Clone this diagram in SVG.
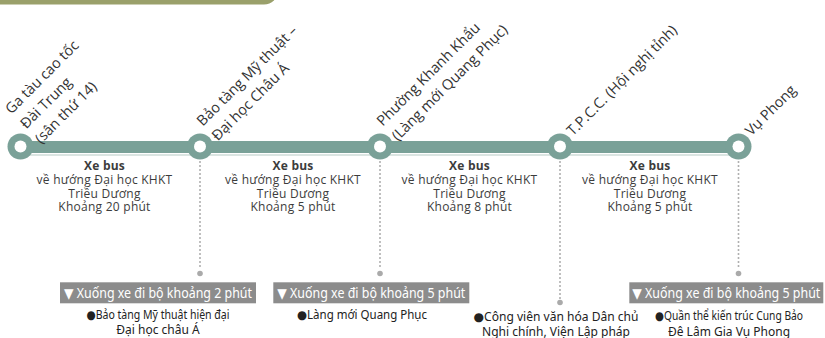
<svg xmlns="http://www.w3.org/2000/svg" width="825" height="338" viewBox="0 0 825 338">
<style>
.lbl{font-family:"Open Sans","Noto Sans",sans-serif;font-size:14.5px;fill:#333}
.bus{font-family:"Open Sans","Noto Sans",sans-serif;font-size:12px;letter-spacing:0.25px;fill:#3c3c3c;text-anchor:middle}
.bus .b{font-weight:bold}
.box{fill:#8c8c8c}
.boxt{font-family:"Noto Sans","DejaVu Sans",sans-serif;font-size:13.5px;fill:#fff;text-anchor:middle}
.desc{font-family:"Noto Sans","DejaVu Sans",sans-serif;font-size:12px;fill:#222;text-anchor:middle}
.dots{stroke:#aaaaaa;stroke-width:2;stroke-linecap:round;stroke-dasharray:0 4;fill:none}
.end{fill:#aaaaaa}
.st-o{fill:#7aa198}
.st-i{fill:#fff}
</style>
<rect x="-20" y="-30" width="298" height="34.5" rx="14" fill="#9aa06b"/>
<g id="connectors">
<line x1="20.5" y1="155" x2="738.5" y2="155" stroke="#cfdcd8" stroke-width="1.5"/>
<line x1="20.5" y1="147" x2="738.5" y2="147" stroke="#7aa198" stroke-width="12"/>
<line class="dots" x1="200" y1="162" x2="200" y2="270"/>
<circle class="end" cx="200" cy="273.5" r="2.8"/>
<line class="dots" x1="380" y1="162" x2="380" y2="270"/>
<circle class="end" cx="380" cy="273.5" r="2.8"/>
<line class="dots" x1="560" y1="162" x2="560" y2="299"/>
<circle class="end" cx="560" cy="302.5" r="2.8"/>
<line class="dots" x1="738.5" y1="162" x2="738.5" y2="270"/>
<circle class="end" cx="738.5" cy="273.5" r="2.8"/>
</g>
<g id="st1">
<circle class="st-o" cx="20.5" cy="146.5" r="13"/><circle class="st-i" cx="20.5" cy="146.5" r="6"/>
<text class="lbl" transform="translate(20.5 146.5) rotate(-45)"><tspan x="16" y="-29">Ga tàu cao tốc</tspan><tspan x="16" y="-8">Đài Trung</tspan><tspan x="16" y="13">(sân thứ 14)</tspan></text>
</g>
<g id="st2">
<circle class="st-o" cx="200" cy="146.5" r="13"/><circle class="st-i" cx="200" cy="146.5" r="6"/>
<text class="lbl" transform="translate(200 146.5) rotate(-45)"><tspan x="16" y="-12">Bảo tàng Mỹ thuật –</tspan><tspan x="16" y="9">Đại học Châu Á</tspan></text>
</g>
<g id="st3">
<circle class="st-o" cx="380" cy="146.5" r="13"/><circle class="st-i" cx="380" cy="146.5" r="6"/>
<text class="lbl" transform="translate(380 146.5) rotate(-45)"><tspan x="16" y="-12">Phường Khanh Khẩu</tspan><tspan x="16" y="9">(Làng mới Quang Phục)</tspan></text>
</g>
<g id="st4">
<circle class="st-o" cx="560" cy="146.5" r="13"/><circle class="st-i" cx="560" cy="146.5" r="6"/>
<text class="lbl" transform="translate(560 146.5) rotate(-45)" x="16" y="2">T.P.C.C. (Hội nghị tỉnh)</text>
</g>
<g id="st5">
<circle class="st-o" cx="738.5" cy="146.5" r="13"/><circle class="st-i" cx="738.5" cy="146.5" r="6"/>
<text class="lbl" transform="translate(738.5 146.5) rotate(-45)" x="16" y="2">Vụ Phong</text>
</g>
<g id="bus1"><text class="bus"><tspan class="b" x="104.5" y="170">Xe bus</tspan><tspan x="104.5" y="184">về hướng Đại học KHKT</tspan><tspan x="104.5" y="197.5">Triều Dương</tspan><tspan x="104.5" y="211">Khoảng 20 phút</tspan></text></g>
<g id="bus2"><text class="bus"><tspan class="b" x="293" y="170">Xe bus</tspan><tspan x="293" y="184">về hướng Đại học KHKT</tspan><tspan x="293" y="197.5">Triều Dương</tspan><tspan x="293" y="211">Khoảng 5 phút</tspan></text></g>
<g id="bus3"><text class="bus"><tspan class="b" x="469.5" y="170">Xe bus</tspan><tspan x="469.5" y="184">về hướng Đại học KHKT</tspan><tspan x="469.5" y="197.5">Triều Dương</tspan><tspan x="469.5" y="211">Khoảng 8 phút</tspan></text></g>
<g id="bus4"><text class="bus"><tspan class="b" x="650" y="170">Xe bus</tspan><tspan x="650" y="184">về hướng Đại học KHKT</tspan><tspan x="650" y="197.5">Triều Dương</tspan><tspan x="650" y="211">Khoảng 5 phút</tspan></text></g>
<g id="walk1">
<rect class="box" x="60" y="282.3" width="196" height="21"/>
<text class="boxt" x="158" y="297.8" textLength="188" lengthAdjust="spacingAndGlyphs">▼ Xuống xe đi bộ khoảng 2 phút</text>
<text class="desc" x="158" y="318.5" textLength="143" lengthAdjust="spacingAndGlyphs">●Bảo tàng Mỹ thuật hiện đại</text>
<text class="desc" x="158" y="334">Đại học châu Á</text>
</g>
<g id="walk2">
<rect class="box" x="273.3" y="282.3" width="196" height="21"/>
<text class="boxt" x="371.3" y="297.8" textLength="188" lengthAdjust="spacingAndGlyphs">▼ Xuống xe đi bộ khoảng 5 phút</text>
<text class="desc" x="362" y="319" textLength="130" lengthAdjust="spacingAndGlyphs">●Làng mới Quang Phục</text>
</g>
<g id="walk3">
<text class="desc" x="556" y="320.5" textLength="165" lengthAdjust="spacingAndGlyphs">●Công viên văn hóa Dân chủ</text>
<text class="desc" x="556" y="336" textLength="148" lengthAdjust="spacingAndGlyphs">Nghi chính, Viện Lập pháp</text>
</g>
<g id="walk4">
<rect class="box" x="629.3" y="282.3" width="194" height="21"/>
<text class="boxt" x="726.3" y="297.8" textLength="188" lengthAdjust="spacingAndGlyphs">▼ Xuống xe đi bộ khoảng 5 phút</text>
<text class="desc" x="729" y="320" textLength="148" lengthAdjust="spacingAndGlyphs">●Quần thể kiến trúc Cung Bảo</text>
<text class="desc" x="729" y="336">Đê Lâm Gia Vụ Phong</text>
</g>
</svg>
